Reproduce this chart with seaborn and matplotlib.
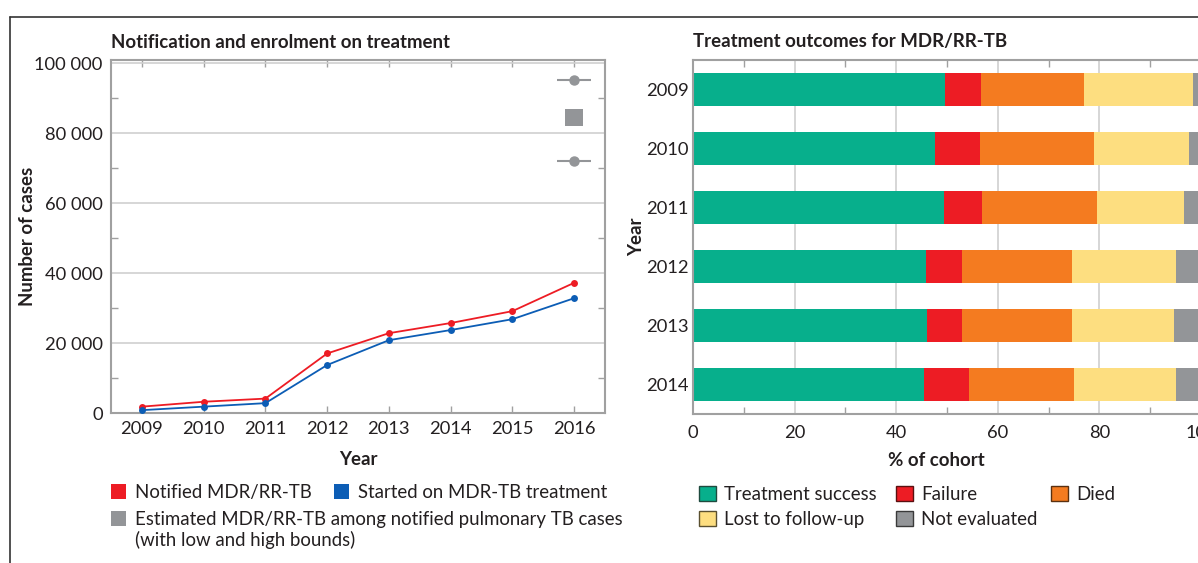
import pandas as pd
import seaborn as sns
import matplotlib.pyplot as plt
from matplotlib.lines import Line2D
from matplotlib.patches import Patch
from matplotlib.ticker import FuncFormatter, MultipleLocator

# Left panel: notification and enrolment
years = [2009, 2010, 2011, 2012, 2013, 2014, 2015, 2016]
notified = [1900, 3300, 4200, 17100, 22900, 25800, 29200, 37300]
started = [900, 1900, 2900, 13800, 20900, 23800, 26900, 32900]
est_year = 2016
est_best = 84600
est_low = 72200
est_high = 95200

# Right panel: treatment outcomes (% of cohort)
cohort_years = ['2009', '2010', '2011', '2012', '2013', '2014']
success = [49.7, 47.7, 49.5, 45.9, 46.1, 45.5]
failure = [7.0, 8.7, 7.4, 7.0, 6.8, 8.9]
died = [20.2, 22.6, 22.7, 21.8, 21.8, 20.6]
lost = [21.6, 18.6, 17.0, 20.4, 20.0, 20.0]
not_eval = [1.5, 2.4, 3.4, 4.9, 5.3, 5.0]

outcome_names = ['Treatment success', 'Failure', 'Died', 'Lost to follow-up', 'Not evaluated']
outcome_colors = ['#07AF8C', '#ED1C24', '#F47B20', '#FDDE80', '#939598']
outcome_edges = ['#1f4a3e', '#5a1010', '#5a3010', '#5a5030', '#3a3a3a']

RED = '#ED1C24'
BLUE = '#0C5DB5'
GREY = '#939598'
SPINE = '#a0a0a0'
GRID = '#cfcfcf'
TEXT = '#231f20'

sns.set_style('white')
plt.rcParams['font.family'] = ['Lato', 'DejaVu Sans']
plt.rcParams['text.color'] = TEXT
plt.rcParams['axes.labelcolor'] = TEXT
plt.rcParams['xtick.color'] = TEXT
plt.rcParams['ytick.color'] = TEXT

W, H = 1198, 563
fig = plt.figure(figsize=(W / 100, H / 100), dpi=100)


def fig_rect(x0, y0, x1, y1):
    return [x0 / W, 1 - y1 / H, (x1 - x0) / W, (y1 - y0) / H]


ax1 = fig.add_axes(fig_rect(111, 60, 605, 413.3))
ax2 = fig.add_axes(fig_rect(693, 60, 1201, 414))

# ---- left panel ----
df_lines = pd.DataFrame({
    'Year': years * 2,
    'Cases': notified + started,
    'Series': ['Notified MDR/RR-TB'] * len(years) + ['Started on MDR-TB treatment'] * len(years),
})
sns.lineplot(data=df_lines, x='Year', y='Cases', hue='Series',
             palette={'Notified MDR/RR-TB': RED, 'Started on MDR-TB treatment': BLUE},
             marker='o', markersize=5, markeredgewidth=0, linewidth=1.3,
             legend=False, ax=ax1, zorder=3)

ax1.errorbar([est_year, est_year], [est_low, est_high], xerr=0.27, fmt='o',
             color=GREY, ms=6.5, elinewidth=1.5, capsize=0, zorder=3)
sns.scatterplot(x=[est_year], y=[est_best], marker='s', s=160, color=GREY,
                edgecolor='none', ax=ax1, zorder=3)

ax1.set_xlim(2008.5, 2016.5)
ax1.set_ylim(0, 101000)
ax1.set_xticks(years)
ax1.yaxis.set_major_locator(MultipleLocator(20000))
ax1.yaxis.set_minor_locator(MultipleLocator(10000))
ax1.yaxis.set_major_formatter(FuncFormatter(lambda v, p: f'{v:,.0f}'.replace(',', ' ')))
ax1.grid(axis='y', which='major', color=GRID, linewidth=1.2, zorder=0)
ax1.set_axisbelow(True)
ax1.tick_params(axis='x', which='major', direction='in', length=5, width=1,
                color=SPINE, top=True, bottom=True, labelsize=13.2, pad=5.5)
ax1.tick_params(axis='y', which='major', length=0, labelsize=13.2, pad=6)
ax1.tick_params(axis='y', which='minor', direction='in', length=5, width=1,
                color=SPINE, left=True, right=True)
ax1.set_xlabel('Year', fontsize=13.4, fontweight='bold', labelpad=10)
ax1.set_ylabel('Number of cases', fontsize=13.4, fontweight='bold')
ax1.yaxis.set_label_coords(-0.152, 0.5)
ax1.set_title('Notification and enrolment on treatment', loc='left',
              fontsize=13.4, fontweight='bold', pad=9)

# ---- right panel: stacked bars drawn as cumulative layers ----
layers = [success, failure, died, lost, not_eval]
cum = []
running = [0.0] * len(cohort_years)
for vals in layers:
    running = [r + v for r, v in zip(running, vals)]
    cum.append(running)

for i in range(len(layers) - 1, -1, -1):
    sns.barplot(x=cum[i], y=cohort_years, orient='h', color=outcome_colors[i],
                width=0.56, edgecolor='none', linewidth=0, saturation=1, ax=ax2, zorder=2)

ax2.set_xlim(0, 100)
ax2.set_ylim(5.5, -0.5)
ax2.xaxis.set_major_locator(MultipleLocator(20))
ax2.xaxis.set_minor_locator(MultipleLocator(10))
ax2.grid(axis='x', which='major', color=GRID, linewidth=1.2, zorder=0)
ax2.set_axisbelow(True)
ax2.tick_params(axis='x', which='major', length=0, labelsize=13.2, pad=8)
ax2.tick_params(axis='x', which='minor', direction='in', length=5, width=1,
                color=SPINE, top=True, bottom=True)
ax2.tick_params(axis='y', length=0, labelsize=13.2, pad=3)
ax2.set_xlabel('% of cohort', fontsize=13.4, fontweight='bold')
ax2.xaxis.set_label_coords(0.48, -0.107)
ax2.set_ylabel('Year', fontsize=13.4, fontweight='bold', labelpad=1)
ax2.set_title('Treatment outcomes for MDR/RR-TB', loc='left',
              fontsize=13.4, fontweight='bold', pad=9)

for ax in (ax1, ax2):
    for s in ax.spines.values():
        s.set_visible(True)
        s.set_color(SPINE)
        s.set_linewidth(1.5)

# ---- legends ----
leg_kw = dict(frameon=False, fontsize=13.4, handlelength=0.8, handleheight=0.8,
              handletextpad=0.5, borderpad=0, borderaxespad=0, labelspacing=0.3,
              loc='upper left')
fig.legend(handles=[Patch(facecolor=RED, edgecolor='none')],
           labels=['Notified MDR/RR-TB'],
           bbox_to_anchor=(111 / W, 1 - 484 / H), **leg_kw)
fig.legend(handles=[Patch(facecolor=BLUE, edgecolor='none')],
           labels=['Started on MDR-TB treatment'],
           bbox_to_anchor=(334 / W, 1 - 484 / H), **leg_kw)
est_kw = dict(leg_kw, labelspacing=0.15)
fig.legend(handles=[Patch(facecolor=GREY, edgecolor='none'),
                    Patch(facecolor='none', edgecolor='none')],
           labels=['Estimated MDR/RR-TB among notified pulmonary TB cases',
                   '(with low and high bounds)'],
           bbox_to_anchor=(111 / W, 1 - 511 / H), **est_kw)

col_x = [699, 896, 1051]
col_items = [[0, 3], [1, 4], [2]]
out_kw = dict(leg_kw, handlelength=0.9, handleheight=0.9, handletextpad=0.45, labelspacing=0.42)
for cx, idx in zip(col_x, col_items):
    fig.legend(handles=[Patch(facecolor=outcome_colors[i], edgecolor=outcome_edges[i], linewidth=1)
                        for i in idx],
               labels=[outcome_names[i] for i in idx],
               bbox_to_anchor=(cx / W, 1 - 486 / H), **out_kw)

# outer frame lines
fig.add_artist(Line2D([10 / W, 1], [1 - 17 / H, 1 - 17 / H], color='#333333', linewidth=1.2))
fig.add_artist(Line2D([10 / W, 10 / W], [0, 1 - 17 / H], color='#333333', linewidth=1.2))

fig.savefig('out.png', dpi=100)
